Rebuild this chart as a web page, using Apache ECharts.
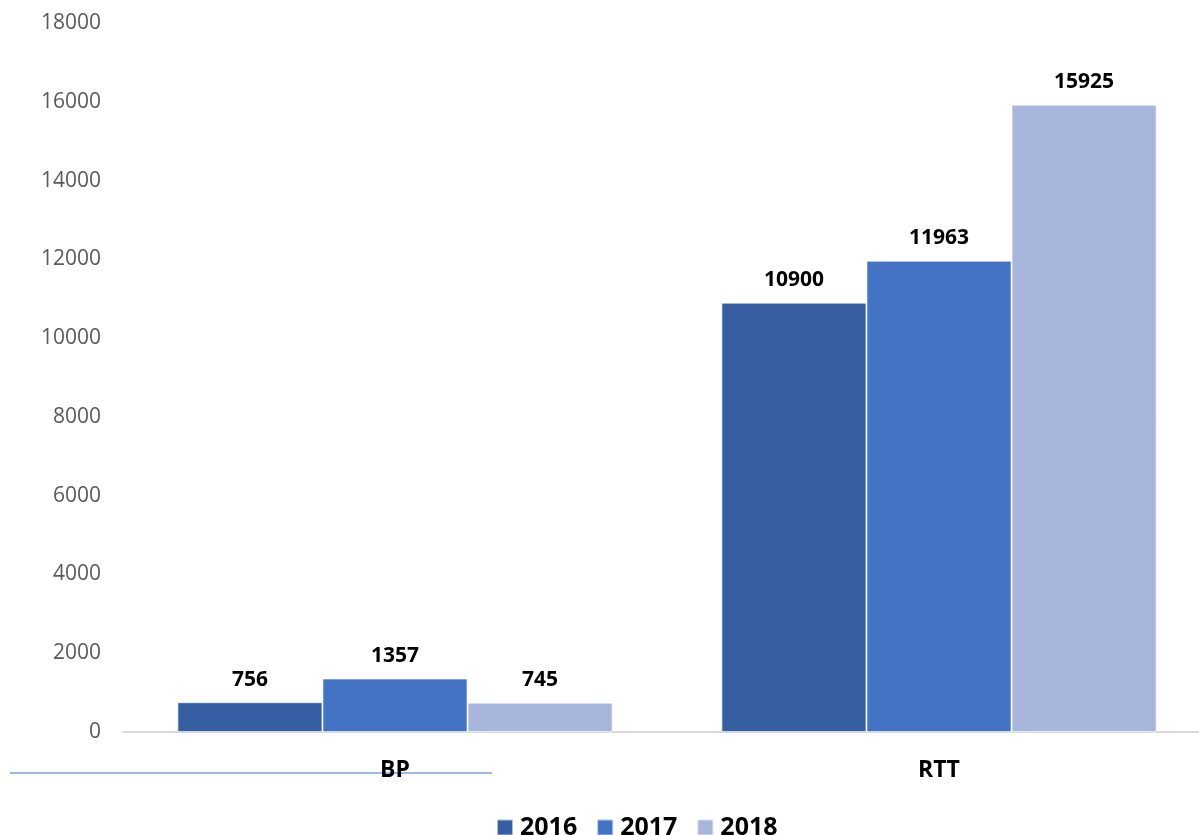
<!DOCTYPE html>
<html><head><meta charset="utf-8">
<script src="https://cdn.jsdelivr.net/npm/echarts@6/dist/echarts.min.js"></script>
<style>html,body{margin:0;padding:0;background:#fff;overflow:hidden}#c{width:1211px;height:835px}</style>
</head><body><div id="c"></div>
<script>
const categories = ['BP', 'RTT'];
const seriesNames = ['2016', '2017', '2018'];
const values2016 = [756, 10900];
const values2017 = [1357, 11963];
const values2018 = [745, 15925];
const colors = ['#375FA3', '#4472C4', '#A9B6DB'];
const yMin = 0, yMax = 18000, yInterval = 2000;

const FONT = '"Open Sans", "Liberation Sans", sans-serif';
const chart = echarts.init(document.getElementById('c'));
const allValues = [values2016, values2017, values2018];
chart.setOption({
  animation: false,
  color: colors,
  textStyle: { fontFamily: FONT },
  grid: { left: 123, right: 0, top: 23, bottom: 103, containLabel: false },
  legend: {
    data: seriesNames,
    bottom: -10,
    left: 491,
    itemWidth: 16, itemHeight: 16, itemGap: 19,
    icon: 'rect',
    textStyle: { fontFamily: FONT, fontSize: 25, fontWeight: 'bold', color: '#000', padding: [0,0,0,2] }
  },
  xAxis: {
    type: 'category',
    data: categories,
    axisLine: { show: true, lineStyle: { color: '#D9D9D9', width: 2 } },
    axisTick: { show: false },
    axisLabel: { margin: 27, fontFamily: FONT, fontSize: 23, fontWeight: 'bold', color: '#000' }
  },
  yAxis: {
    type: 'value',
    min: yMin, max: yMax, interval: yInterval,
    axisLine: { show: false },
    axisTick: { show: false },
    splitLine: { show: false },
    axisLabel: { margin: 22, fontFamily: FONT, fontSize: 21, color: '#595959', formatter: v => String(v) }
  },
  series: seriesNames.map((n, i) => ({
    name: n,
    type: 'bar',
    data: allValues[i],
    barGap: '0%',
    barCategoryGap: '20%',
    itemStyle: { color: colors[i], borderColor: 'rgba(255,255,255,0.6)', borderWidth: 1 },
    label: { show: true, position: 'top', distance: 12, fontFamily: FONT, fontSize: 21, fontWeight: 'bold', color: '#000' }
  })),
  graphic: [{
    type: 'line', silent: true,
    shape: { x1: 10, y1: 773, x2: 492, y2: 773 },
    style: { stroke: '#4472C4', lineWidth: 1.2 }
  }]
});
</script></body></html>
